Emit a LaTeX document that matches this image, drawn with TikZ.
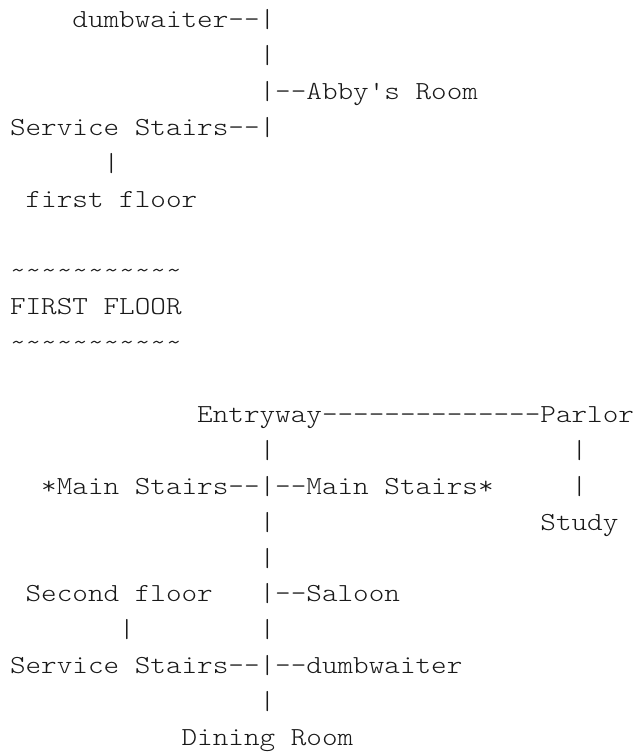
\documentclass[tikz,border=0pt]{standalone}
\usepackage{graphicx}
\usepackage{fontspec}
\newfontfamily\asciimono{Latin Modern Mono Light}[WordSpace={1,0,0}]
\definecolor{inkc}{RGB}{25,25,25}
\tikzset{
  txt/.style={anchor=base west,inner sep=0pt,outer sep=0pt,text=inkc,
    font=\asciimono\fontsize{26pt}{26pt}\selectfont}
}
\newcommand\asc[4]{\node[txt] (#1) at ({10pt+15.6pt*#2},{-27.5pt-35.9pt*#3}) {\scalebox{1.1429}[1]{#4}};}
\begin{document}
\begin{tikzpicture}
\useasboundingbox (0,0) rectangle (634pt,-752pt);
% second floor block
\asc{dw}{4}{0}{dumbwaiter--|}
\asc{v1}{16}{1}{|}
\asc{abby}{16}{2}{|--Abby's Room}
\asc{ss}{0}{3}{Service Stairs--|}
\asc{v2}{6}{4}{|}
\asc{ff}{1}{5}{first floor}
% heading
\asc{t1}{0}{7}{\detokenize{~~~~~~~~~~~}}
\asc{head}{0}{8}{FIRST FLOOR}
\asc{t2}{0}{9}{\detokenize{~~~~~~~~~~~}}
% first floor block
\asc{entry}{12}{11}{Entryway--------------Parlor}
\asc{v3}{16}{12}{|}
\asc{v4}{36}{12}{|}
\asc{main}{2}{13}{*Main Stairs--|--Main Stairs*}
\asc{v5}{36}{13}{|}
\asc{v6}{16}{14}{|}
\asc{study}{34}{14}{Study}
\asc{v7}{16}{15}{|}
\asc{sf}{1}{16}{Second floor}
\asc{saloon}{16}{16}{|--Saloon}
\asc{v8}{7}{17}{|}
\asc{v9}{16}{17}{|}
\asc{ss2}{0}{18}{Service Stairs--|--dumbwaiter}
\asc{v10}{16}{19}{|}
\asc{dining}{11}{20}{Dining Room}
\end{tikzpicture}
\end{document}
